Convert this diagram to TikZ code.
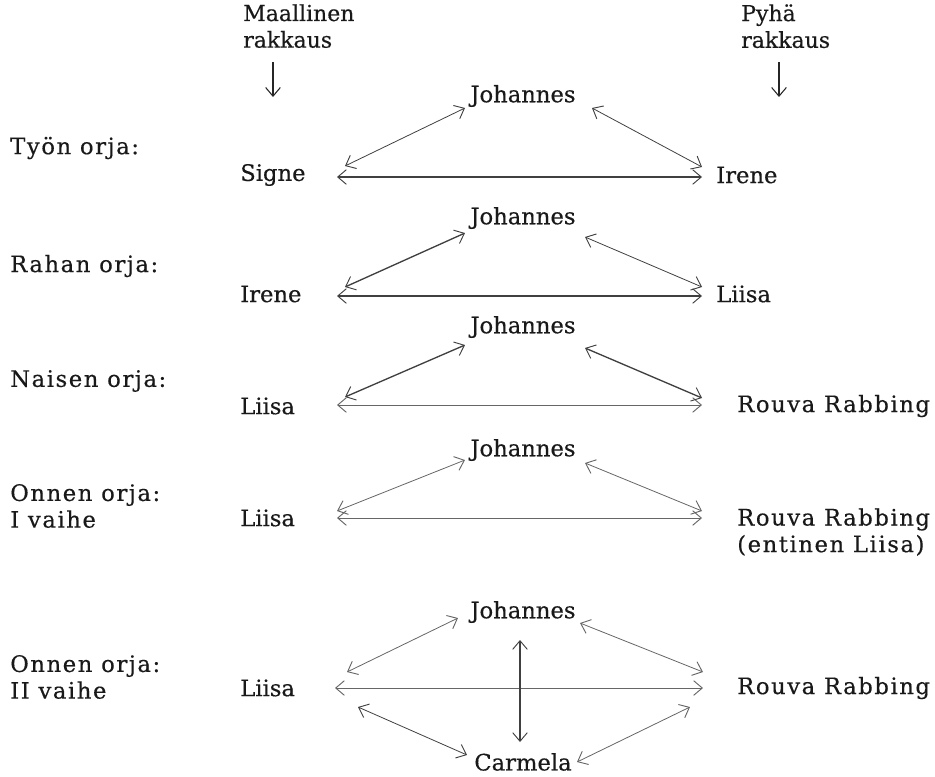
\documentclass[tikz,border=0pt]{standalone}
\usepackage{fontspec}
\setmainfont[FakeBold=0.4]{DejaVu Serif}
\usetikzlibrary{arrows.meta}
\newfontfamily\spaced[LetterSpace=7,FakeBold=0.4]{DejaVu Serif}
\begin{document}
\begin{tikzpicture}[x=0.75pt,y=-0.75pt,
  txt/.style={inner sep=0pt,font=\fontsize{17}{20}\selectfont,text=black!90},
  lab/.style={txt,anchor=west,font=\fontsize{17}{20}\selectfont\spaced,align=left},
  head/.style={txt,anchor=north west,align=left,font=\fontsize{16.5}{20}\selectfont},
  nm/.style={txt,anchor=west},
  jo/.style={txt},
  rel/.style={draw=black!75,line width=0.6pt,{Straight Barb[length=6.5pt,width=11pt,line width=0.7pt]}-{Straight Barb[length=6.5pt,width=11pt,line width=0.7pt]}},
  relfaint/.style={rel,draw=black!60},
  relthick/.style={rel,line width=1.2pt},
  down/.style={draw=black!85,line width=0.8pt,-{Straight Barb[length=6.5pt,width=11pt,line width=0.8pt]}}
]
\useasboundingbox (0,0) rectangle (935,776);
% headers
\node[head] (hm) at (243,4) {Maallinen\\rakkaus};
\node[head] (hp) at (741,4) {Pyhä\\rakkaus};
\coordinate (hmd) at (273,97);
\coordinate (hpd) at (779,97);
\coordinate (hmt) at (273,62);
\coordinate (hpt) at (779,62);
\draw[down] (hmt) -- (hmd);
\draw[down] (hpt) -- (hpd);
% left labels
\node[lab] (l1) at (10,148) {Työn orja:};
\node[lab] (l2) at (10,266) {Rahan orja:};
\node[lab] (l3) at (10,381) {Naisen orja:};
\node[lab] (l4) at (10,506) {Onnen orja:\\I vaihe};
\node[lab] (l5) at (10,677) {Onnen orja:\\II vaihe};
% row 1
\node[jo] (j1) at (523,96) {Johannes};
\node[nm] (a1) at (240,175) {Signe};
\node[nm] (b1) at (716,175) {Irene};
\coordinate (a1h) at (337,177); \coordinate (b1h) at (702,177);
\coordinate (a1u) at (345,166); \coordinate (b1u) at (702,167);
\coordinate (j1l) at (465,108); \coordinate (j1r) at (592,108);
\draw[relthick] (a1h) -- (b1h);
\draw[rel] (a1u) -- (j1l);
\draw[rel] (j1r) -- (b1u);
% row 2
\node[jo] (j2) at (523,218) {Johannes};
\node[nm] (a2) at (240,294) {Irene};
\node[nm] (b2) at (716,294) {Liisa};
\coordinate (a2h) at (337,296); \coordinate (b2h) at (702,296);
\coordinate (a2u) at (345,287); \coordinate (b2u) at (702,287);
\coordinate (j2l) at (465,233); \coordinate (j2r) at (585,237);
\draw[relthick] (a2h) -- (b2h);
\draw[rel,line width=1pt] (a2u) -- (j2l);
\draw[rel] (j2r) -- (b2u);
% row 3
\node[jo] (j3) at (523,327) {Johannes};
\node[nm] (a3) at (240,406) {Liisa};
\node[nm,font=\fontsize{17}{20}\selectfont\spaced] (b3) at (737,406) {Rouva Rabbing};
\coordinate (a3h) at (337,405); \coordinate (b3h) at (702,405);
\coordinate (a3u) at (345,397); \coordinate (b3u) at (702,398);
\coordinate (j3l) at (465,345); \coordinate (j3r) at (585,348);
\draw[relfaint] (a3h) -- (b3h);
\draw[rel,line width=1pt] (a3u) -- (j3l);
\draw[rel,line width=1pt] (j3r) -- (b3u);
% row 4
\node[jo] (j4) at (523,450) {Johannes};
\node[nm] (a4) at (240,518) {Liisa};
\node[nm,font=\fontsize{17}{20}\selectfont\spaced,align=left,anchor=north west] (b4) at (737,508) {Rouva Rabbing\\(entinen Liisa)};
\coordinate (a4h) at (337,518); \coordinate (b4h) at (702,518);
\coordinate (a4u) at (337,511); \coordinate (b4u) at (702,511);
\coordinate (j4l) at (465,460); \coordinate (j4r) at (585,463);
\draw[relfaint] (a4h) -- (b4h);
\draw[relfaint] (a4u) -- (j4l);
\draw[relfaint] (j4r) -- (b4u);
% row 5
\node[jo] (j5) at (523,612) {Johannes};
\node[jo] (c5) at (523,762) {Carmela};
\node[nm] (a5) at (240,688) {Liisa};
\node[nm,font=\fontsize{17}{20}\selectfont\spaced] (b5) at (737,688) {Rouva Rabbing};
\coordinate (a5h) at (335,688); \coordinate (b5h) at (703,688);
\coordinate (a5u) at (347,672); \coordinate (b5u) at (703,672);
\coordinate (j5l) at (458,618); \coordinate (j5r) at (580,623);
\coordinate (a5d) at (358,707); \coordinate (b5d) at (690,707);
\coordinate (c5l) at (467,755); \coordinate (c5r) at (577,762);
\coordinate (j5d) at (520,640); \coordinate (c5u) at (520,742);
\draw[relfaint] (a5h) -- (b5h);
\draw[relfaint] (a5u) -- (j5l);
\draw[relfaint] (j5r) -- (b5u);
\draw[rel] (a5d) -- (c5l);
\draw[relfaint] (c5r) -- (b5d);
\draw[rel,line width=0.8pt] (j5d) -- (c5u);
\end{tikzpicture}
\end{document}
